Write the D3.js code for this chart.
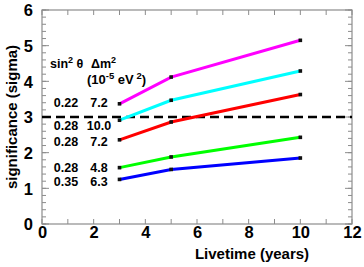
<!DOCTYPE html>
<html>
<head>
<script src="https://d3js.org/d3.v7.min.js"></script>
<style>
  body { margin: 0; background: #fff; }
  svg text { font-family: "Liberation Sans", Arial, sans-serif; font-weight: bold; }
</style>
</head>
<body>
<div id="chart"></div>
<script>
// livetime (years)
const livetime = [3, 5, 10];
// significance per parameter set
const sigMagenta = [3.37, 4.12, 5.15];
const sigCyan = [2.91, 3.47, 4.29];
const sigRed = [2.36, 2.86, 3.63];
const sigGreen = [1.58, 1.88, 2.43];
const sigBlue = [1.25, 1.53, 1.85];
const seriesColors = ["#ff00ff", "#00ffff", "#ff0000", "#00ff00", "#0000ff"];
const sin2Labels = ["0.22", "0.28", "0.28", "0.28", "0.35"];
const dm2Labels = ["7.2", "10.0", "7.2", "4.8", "6.3"];
const xTicks = [0, 2, 4, 6, 8, 10, 12];
const yTicks = [0, 1, 2, 3, 4, 5, 6];
const threshold = 3;

const W = 364, H = 267;
const margin = { top: 10, right: 12, bottom: 43, left: 42 };
const width = W - margin.left - margin.right;
const height = H - margin.top - margin.bottom;

const svg = d3.select("#chart").append("svg")
  .attr("width", W).attr("height", H);
const g = svg.append("g").attr("transform", `translate(${margin.left},${margin.top})`);

const x = d3.scaleLinear().domain([0, 12]).range([0, width]);
const y = d3.scaleLinear().domain([0, 6]).range([height, 0]);

const axisColor = "#8c8c8c";

// minor/major ticks, all inward, on four sides
const xMinor = d3.range(0, 13, 1);
const yMinor = d3.range(0, 6.001, 0.2);

function tickLines(sel, vals, orient, len) {
  sel.selectAll(null).data(vals).enter().append("line")
    .attr("stroke", axisColor).attr("stroke-width", 1)
    .attr("x1", d => orient === "b" || orient === "t" ? x(d) : (orient === "l" ? 0 : width))
    .attr("x2", d => orient === "b" || orient === "t" ? x(d) : (orient === "l" ? len : width - len))
    .attr("y1", d => orient === "l" || orient === "r" ? y(d) : (orient === "b" ? height : 0))
    .attr("y2", d => orient === "l" || orient === "r" ? y(d) : (orient === "b" ? height - len : len));
}
const ticksG = g.append("g");
tickLines(ticksG, xMinor, "b", 5);
tickLines(ticksG, xMinor, "t", 5);
tickLines(ticksG, yMinor, "l", 4);
tickLines(ticksG, yMinor, "r", 4);
tickLines(ticksG, yTicks, "l", 7);
tickLines(ticksG, yTicks, "r", 7);

// frame
g.append("rect").attr("width", width).attr("height", height)
  .attr("fill", "none").attr("stroke", axisColor).attr("stroke-width", 1.2);

// tick labels via axes
const xAxis = g.append("g").attr("transform", `translate(0,${height})`)
  .call(d3.axisBottom(x).tickValues(xTicks).tickSize(0).tickPadding(2).tickFormat(d3.format("d")));
const yAxis = g.append("g")
  .call(d3.axisLeft(y).tickValues(yTicks).tickSize(0).tickPadding(9).tickFormat(d3.format("d")));
[xAxis, yAxis].forEach(a => {
  a.select(".domain").remove();
  a.selectAll("text").attr("font-size", 16.5).attr("font-weight", "bold")
    .attr("font-family", "Liberation Sans, Arial, sans-serif").attr("fill", "#000");
});
xAxis.selectAll("text").attr("dy", "0.74em");
yAxis.selectAll("text").attr("dy", "0.36em");

// threshold dashed line
g.append("line")
  .attr("x1", x(0)).attr("x2", x(12))
  .attr("y1", y(threshold)).attr("y2", y(threshold))
  .attr("stroke", "#000").attr("stroke-width", 2.5).attr("stroke-dasharray", "9,5");

// series
const allSeries = [sigMagenta, sigCyan, sigRed, sigGreen, sigBlue];
const line = d3.line().x((d, i) => x(livetime[i])).y(d => y(d));
allSeries.forEach((vals, k) => {
  g.append("path").datum(vals)
    .attr("fill", "none").attr("stroke", seriesColors[k]).attr("stroke-width", 3)
    .attr("d", line);
  g.selectAll(null).data(vals).enter().append("rect")
    .attr("x", (d, i) => x(livetime[i]) - 1.8).attr("y", d => y(d) - 1.8)
    .attr("width", 3.6).attr("height", 3.6).attr("fill", "#111");
});

// legend text
const leg = svg.append("g");
const hdr = leg.append("text").attr("x", 50).attr("y", 68).attr("font-size", 12.5);
hdr.append("tspan").text("sin");
hdr.append("tspan").attr("dy", -5).attr("font-size", 9).text("2");
hdr.append("tspan").attr("dy", 5).text(" \u03b8");
const hdr2 = leg.append("text").attr("x", 91).attr("y", 68).attr("font-size", 12.5);
hdr2.append("tspan").text("\u0394m");
hdr2.append("tspan").attr("dy", -5).attr("font-size", 9).text("2");
const unit = leg.append("text").attr("x", 87).attr("y", 84).attr("font-size", 13);
unit.append("tspan").text("(10");
unit.append("tspan").attr("dy", -5).attr("font-size", 9.5).text("-5");
unit.append("tspan").attr("dy", 5).text(" eV");
unit.append("tspan").attr("dy", -5).attr("font-size", 9.5).text(" 2");
unit.append("tspan").attr("dy", 5).text(")");

const rowY = [107, 130, 146, 171.5, 185.5];
leg.selectAll(null).data(sin2Labels).enter().append("text")
  .attr("x", 66).attr("y", (d, i) => rowY[i]).attr("text-anchor", "middle")
  .attr("font-size", 12.5).text(d => d);
leg.selectAll(null).data(dm2Labels).enter().append("text")
  .attr("x", 99).attr("y", (d, i) => rowY[i]).attr("text-anchor", "middle")
  .attr("font-size", 12.5).text(d => d);

// axis titles
svg.append("text").attr("x", 252).attr("y", 259).attr("text-anchor", "middle")
  .attr("font-size", 15).text("Livetime (years)");
svg.append("text").attr("transform", `translate(17,${margin.top + height / 2}) rotate(-90)`)
  .attr("text-anchor", "middle").attr("font-size", 15).text("significance (sigma)");
</script>
</body>
</html>
